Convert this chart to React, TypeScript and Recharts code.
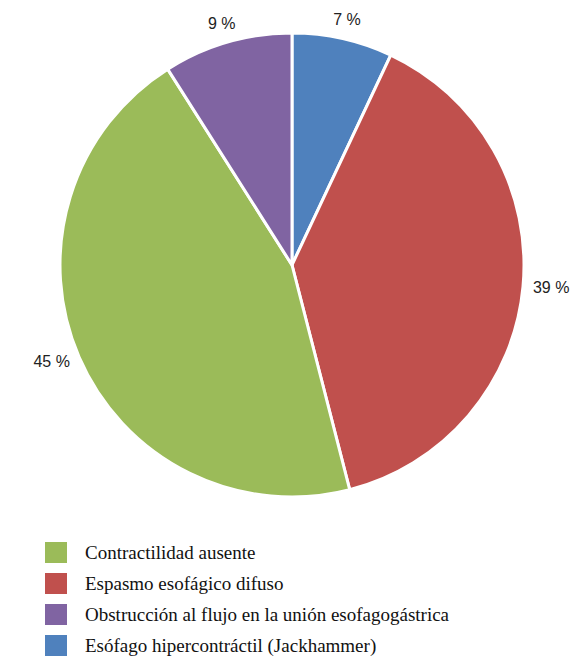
import { PieChart, Pie, Cell } from 'recharts'

const names = [
  'Esófago hipercontráctil (Jackhammer)',
  'Espasmo esofágico difuso',
  'Contractilidad ausente',
  'Obstrucción al flujo en la unión esofagogástrica',
]
const values = [7, 39, 45, 9]
const colors = ['#4F81BD', '#C0504D', '#9BBB59', '#8064A2']
const legendOrder = [2, 1, 3, 0]

const data = names.map((name, i) => ({ name, value: values[i], color: colors[i] }))

const RADIAN = Math.PI / 180

function renderLabel(props: any) {
  const { cx, cy, midAngle, outerRadius, value } = props
  const cos = Math.cos(-midAngle * RADIAN)
  const side = Math.abs(cos) > 0.5
  const r = side ? outerRadius + 10 : outerRadius + 20
  const x = cx + r * cos
  const y = cy + r * Math.sin(-midAngle * RADIAN)
  let anchor: 'start' | 'end' | 'middle' = 'middle'
  if (cos > 0.5) anchor = 'start'
  else if (cos < -0.5) anchor = 'end'
  return (
    <text
      x={x}
      y={y}
      textAnchor={anchor}
      dominantBaseline="central"
      fill="#222"
      fontFamily="'Liberation Sans', Arial, sans-serif"
      fontSize={16}
    >
      {value} %
    </text>
  )
}

function LegendList() {
  return (
    <div
      style={{
        position: 'absolute',
        left: 45,
        top: 537,
        fontFamily: "'Liberation Serif', 'Times New Roman', serif",
        fontSize: 19,
        color: '#111',
      }}
    >
      {legendOrder.map((idx) => (
        <div key={idx} style={{ display: 'flex', alignItems: 'center', height: 31 }}>
          <span
            style={{
              width: 22,
              height: 21,
              backgroundColor: colors[idx],
              marginRight: 18,
              display: 'inline-block',
            }}
          />
          <span>{names[idx]}</span>
        </div>
      ))}
    </div>
  )
}

export default function App() {
  return (
    <div style={{ position: 'absolute', left: 0, top: 0, width: 575, height: 656, background: '#fff' }}>
      <PieChart width={575} height={656} margin={{ top: 0, right: 0, bottom: 0, left: 0 }}>
        <Pie
          data={data}
          dataKey="value"
          nameKey="name"
          cx={292}
          cy={265}
          outerRadius={232}
          startAngle={90}
          endAngle={-270}
          stroke="#fff"
          strokeWidth={3}
          label={renderLabel}
          labelLine={false}
          isAnimationActive={false}
        >
          {data.map((entry, index) => (
            <Cell key={index} fill={entry.color} />
          ))}
        </Pie>
      </PieChart>
      <LegendList />
    </div>
  )
}
